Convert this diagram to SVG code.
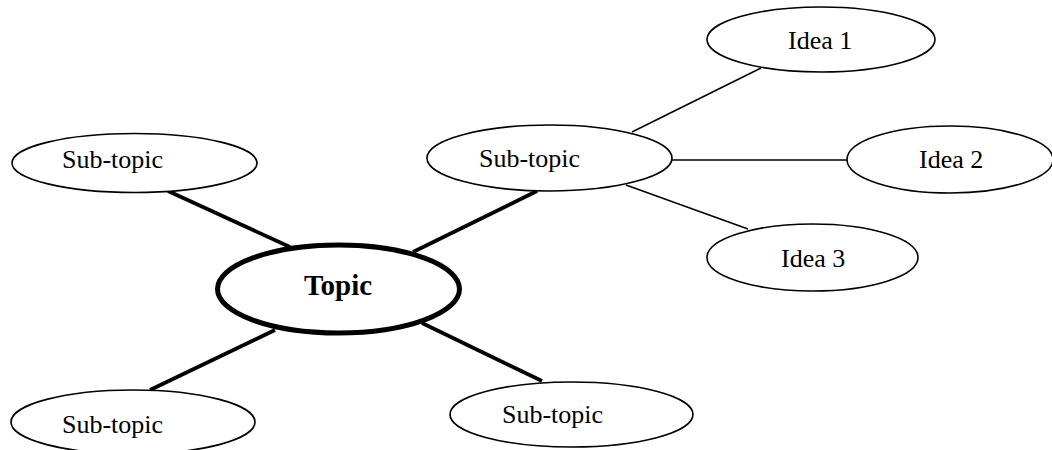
<svg xmlns="http://www.w3.org/2000/svg" width="1052" height="450" viewBox="0 0 1052 450">
<style>
.n{fill:#fff;stroke:#000;stroke-width:1.6}
.t{fill:#000;font-family:"Liberation Serif","Times New Roman",serif;font-size:26px}
.b{font-size:29px;font-weight:bold}
.thick{stroke:#000;stroke-width:3.8;fill:none}
.thin{stroke:#000;stroke-width:1.6;fill:none}
</style>
<rect width="1052" height="450" fill="#fff"/>
<g id="connectors">
<line class="thick" x1="168" y1="191" x2="290" y2="247"/>
<line class="thick" x1="537" y1="191" x2="413" y2="252"/>
<line class="thick" x1="150" y1="390" x2="275" y2="330"/>
<line class="thick" x1="422" y1="323" x2="542" y2="381"/>
<line class="thin" x1="632" y1="132" x2="761" y2="68"/>
<line class="thin" x1="672" y1="160" x2="847" y2="160"/>
<line class="thin" x1="626" y1="185" x2="748" y2="229"/>
</g>
<g id="topic">
<ellipse cx="338.5" cy="289" rx="121" ry="44" fill="#fff" stroke="#000" stroke-width="5"/>
<text class="t b" x="338" y="295" text-anchor="middle">Topic</text>
</g>
<g id="sub-tl">
<ellipse class="n" cx="134.5" cy="163" rx="122.5" ry="29.5"/>
<text class="t" x="62" y="168">Sub-topic</text>
</g>
<g id="sub-tm">
<ellipse class="n" cx="549.5" cy="158" rx="122.5" ry="33"/>
<text class="t" x="479" y="167">Sub-topic</text>
</g>
<g id="sub-bl">
<ellipse class="n" cx="133" cy="422" rx="122" ry="32"/>
<text class="t" x="62" y="433">Sub-topic</text>
</g>
<g id="sub-bm">
<ellipse class="n" cx="571.5" cy="414.5" rx="121.5" ry="32.5"/>
<text class="t" x="502" y="423">Sub-topic</text>
</g>
<g id="idea1">
<ellipse class="n" cx="821" cy="39.5" rx="114" ry="32.5"/>
<text class="t" x="788" y="49">Idea 1</text>
</g>
<g id="idea2">
<ellipse class="n" cx="950" cy="159.5" rx="103" ry="33.5"/>
<text class="t" x="919" y="168">Idea 2</text>
</g>
<g id="idea3">
<ellipse class="n" cx="812.5" cy="257.5" rx="105.5" ry="33.5"/>
<text class="t" x="781" y="267">Idea 3</text>
</g>
</svg>
